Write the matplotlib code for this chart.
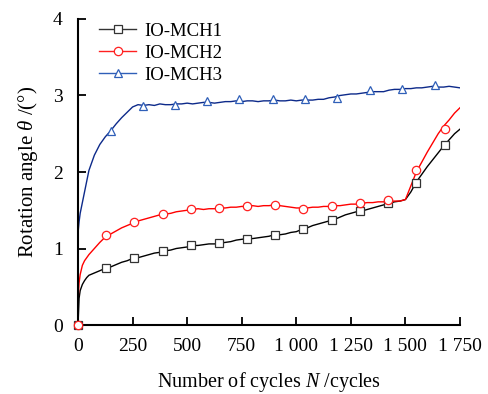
import matplotlib
matplotlib.use('Agg')
import matplotlib.pyplot as plt
from matplotlib.lines import Line2D

plt.rcParams['font.family'] = ['Liberation Serif', 'DejaVu Serif']
plt.rcParams['mathtext.fontset'] = 'custom'
plt.rcParams['mathtext.rm'] = 'Liberation Serif'
plt.rcParams['mathtext.it'] = 'Liberation Serif:italic'

cycles = [0, 5, 10, 20, 30, 40, 50] + list(range(75, 1751, 25))

mch1 = [0.00, 0.35, 0.45, 0.53, 0.58, 0.62, 0.65,
        0.68, 0.71, 0.74, 0.76, 0.79, 0.82, 0.84, 0.87, 0.88, 0.90, 0.92, 0.94, 0.95,
        0.97, 0.98, 1.00, 1.01, 1.02, 1.04, 1.04, 1.05, 1.06, 1.06, 1.07, 1.08, 1.09,
        1.11, 1.12, 1.13, 1.13, 1.14, 1.15, 1.16, 1.18, 1.18, 1.19, 1.21, 1.22, 1.25,
        1.27, 1.30, 1.32, 1.34, 1.36, 1.38, 1.41, 1.44, 1.46, 1.48, 1.49, 1.51, 1.53,
        1.55, 1.57, 1.59, 1.61, 1.62, 1.64, 1.74, 1.87, 1.97, 2.07, 2.16, 2.25, 2.34,
        2.42, 2.50, 2.56]

mch2 = [0.30, 0.55, 0.66, 0.78, 0.84, 0.88, 0.92,
        1.00, 1.08, 1.15, 1.19, 1.23, 1.27, 1.30, 1.33, 1.36, 1.38, 1.40, 1.42, 1.44,
        1.45, 1.46, 1.48, 1.49, 1.50, 1.51, 1.52, 1.51, 1.52, 1.52, 1.53, 1.53, 1.54,
        1.54, 1.55, 1.55, 1.56, 1.55, 1.56, 1.56, 1.57, 1.56, 1.55, 1.54, 1.53, 1.53,
        1.53, 1.54, 1.54, 1.55, 1.55, 1.56, 1.56, 1.57, 1.58, 1.58, 1.59, 1.60, 1.60,
        1.61, 1.61, 1.61, 1.62, 1.62, 1.64, 1.82, 2.00, 2.13, 2.26, 2.38, 2.50, 2.60,
        2.68, 2.77, 2.84]

mch3 = [1.20, 1.35, 1.46, 1.60, 1.74, 1.88, 2.02,
        2.22, 2.36, 2.46, 2.54, 2.63, 2.71, 2.78, 2.85, 2.88, 2.87, 2.88, 2.87, 2.89,
        2.88, 2.88, 2.89, 2.89, 2.90, 2.89, 2.90, 2.91, 2.91, 2.90, 2.91, 2.92, 2.92,
        2.93, 2.92, 2.93, 2.93, 2.92, 2.93, 2.93, 2.94, 2.93, 2.93, 2.94, 2.93, 2.94,
        2.94, 2.94, 2.95, 2.95, 2.97, 2.98, 3.00, 3.01, 3.02, 3.02, 3.03, 3.04, 3.05,
        3.05, 3.05, 3.07, 3.08, 3.08, 3.09, 3.09, 3.10, 3.10, 3.11, 3.12, 3.11, 3.11,
        3.12, 3.11, 3.10]

# marker positions
mk12_cycles = [0, 128, 256, 388, 516, 644, 773, 902, 1032, 1162, 1292, 1422, 1548, 1680]
mk1_vals = [0.0, 0.75, 0.88, 0.97, 1.04, 1.07, 1.13, 1.18, 1.25, 1.37, 1.49, 1.60, 1.86, 2.35]
mk2_vals = [0.0, 1.17, 1.35, 1.45, 1.51, 1.53, 1.56, 1.57, 1.52, 1.55, 1.60, 1.63, 2.02, 2.56]
mk3_cycles = [150, 296, 444, 592, 739, 892, 1040, 1188, 1338, 1486, 1635]
mk3_vals = [2.54, 2.86, 2.88, 2.93, 2.95, 2.95, 2.95, 2.97, 3.07, 3.09, 3.14]

labels = ['IO-MCH1', 'IO-MCH2', 'IO-MCH3']
x_ticks = [0, 250, 500, 750, 1000, 1250, 1500, 1750]
x_ticklabels = ['0', '250', '500', '750', '1 000', '1 250', '1 500', '1 750']

fig = plt.figure(figsize=(4.89, 3.94), dpi=100)
ax = fig.add_axes([0.1595, 0.1751, 0.7812, 0.7767])

line_col = ['black', '#ff0000', '#0d2a8a']
mk_col = ['#333333', '#ff2020', '#2f5fb8']
mk_shape = ['s', 'o', '^']

series = [(cycles, mch1, mk12_cycles, mk1_vals),
          (cycles, mch2, mk12_cycles, mk2_vals),
          (cycles, mch3, mk3_cycles, mk3_vals)]

for i, (xs, ys, mx, my) in enumerate(series):
    ax.plot(xs, ys, color=line_col[i], lw=1.0)
for i, (xs, ys, mx, my) in enumerate(series):
    ax.plot(mx, my, ls='none', marker=mk_shape[i], ms=6, mfc='white',
            mec=mk_col[i], mew=0.9, clip_on=False, zorder=5)

handles = [Line2D([], [], color=mk_col[i], lw=1.0, marker=mk_shape[i], ms=6,
                  mfc='white', mec=mk_col[i], mew=0.9) for i in range(3)]
ax.legend(handles, labels, loc='upper left', frameon=False, fontsize=13.5,
          handlelength=2.0, handletextpad=0.4, labelspacing=0.25,
          bbox_to_anchor=(0.035, 1.012), borderaxespad=0)

ax.set_xlim(0, 1750)
ax.set_ylim(0, 4)
ax.set_xticks(x_ticks)
ax.set_xticklabels(x_ticklabels)
ax.set_yticks([0, 1, 2, 3, 4])
ax.spines['top'].set_visible(False)
ax.spines['right'].set_visible(False)
for s in ['left', 'bottom']:
    ax.spines[s].set_linewidth(1.5)
ax.tick_params(direction='in', length=6, width=1.3, labelsize=14, pad=9)
ax.tick_params(axis='y', pad=11)

ax.set_xlabel('Number of cycles $N$ /cycles', fontsize=14.5, labelpad=11)
ax.set_ylabel(r'Rotation angle $\theta$ /(°)', fontsize=15, labelpad=9)

fig.savefig('out.png', dpi=100)
